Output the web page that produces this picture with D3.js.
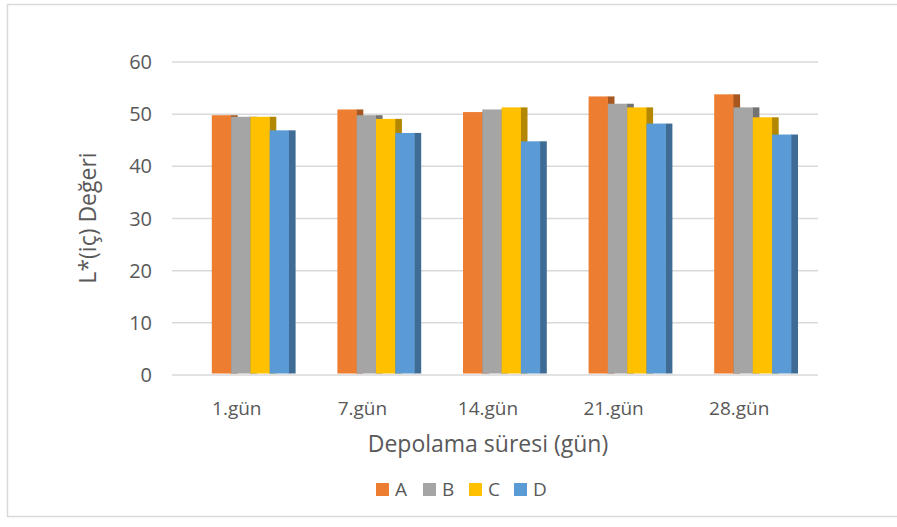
<!DOCTYPE html>
<html>
<head>
<meta charset="utf-8">
<script src="https://cdn.jsdelivr.net/npm/d3@7"></script>
<style>
  body { margin: 0; background: #fff; }
  text { font-family: "Open Sans", "Noto Sans", sans-serif; fill: #595959; }
</style>
</head>
<body>
<svg id="chart" width="897" height="527"></svg>
<script>
// storage days on the x axis
var days = ["1.gün", "7.gün", "14.gün", "21.gün", "28.gün"];
var seriesNames = ["A", "B", "C", "D"];
// L* (inner) values
var valuesA = [49.8, 50.9, 50.4, 53.4, 53.8];
var valuesB = [49.5, 49.8, 50.9, 52.0, 51.3];
var valuesC = [49.5, 49.1, 51.3, 51.3, 49.4];
var valuesD = [46.9, 46.4, 44.8, 48.2, 46.1];
var yTicks = [0, 10, 20, 30, 40, 50, 60];

var frontColors = ["#ED7D31", "#A5A5A5", "#FFC000", "#5B9BD5"];
var sideColors  = ["#A6561F", "#737373", "#B38700", "#3F6C95"];

var allValues = [valuesA, valuesB, valuesC, valuesD];

var svg = d3.select("#chart");

// outer frame
svg.append("rect")
    .attr("x", 7.5).attr("y", 4.5)
    .attr("width", 900).attr("height", 512)
    .attr("fill", "none")
    .attr("stroke", "#d9d9d9")
    .attr("stroke-width", 1.5);

var y = d3.scaleLinear().domain([0, 60]).range([375, 62]);
var x = d3.scaleBand().domain(days).range([174, 802]);

var barW = 19.3, depth = 6.6;

// gridlines (back wall, a bit wider than the category band)
svg.append("g")
    .selectAll("line")
    .data(yTicks)
    .join("line")
    .attr("x1", 172).attr("x2", 818)
    .attr("y1", function (d) { return y(d); })
    .attr("y2", function (d) { return y(d); })
    .attr("stroke", "#d9d9d9")
    .attr("stroke-width", 1.5);

// y tick labels
svg.append("g")
    .selectAll("text")
    .data(yTicks)
    .join("text")
    .attr("x", 152)
    .attr("y", function (d) { return y(d); })
    .attr("dy", "0.35em")
    .attr("text-anchor", "end")
    .attr("font-size", 20)
    .text(function (d) { return d; });

// bars: each series drawn in order so the next front covers the previous side
var bars = svg.append("g");
allValues.forEach(function (vals, s) {
    var g = bars.append("g");
    vals.forEach(function (v, i) {
        var x0 = x(days[i]) + x.bandwidth() / 2 - 25 + s * barW;
        g.append("rect")
            .attr("x", x0 + barW - 0.5)
            .attr("y", y(v))
            .attr("width", depth + 0.5)
            .attr("height", y(0) - 1.5 - y(v))
            .attr("fill", sideColors[s]);
        g.append("rect")
            .attr("x", x0)
            .attr("y", y(v))
            .attr("width", barW)
            .attr("height", y(0) - 1.5 - y(v))
            .attr("fill", frontColors[s]);
    });
});

// x tick labels
svg.append("g")
    .selectAll("text")
    .data(days)
    .join("text")
    .attr("x", function (d) { return x(d) + x.bandwidth() / 2; })
    .attr("y", 408)
    .attr("dy", "0.35em")
    .attr("text-anchor", "middle")
    .attr("font-size", 19)
    .text(function (d) { return d; });

// axis titles
svg.append("text")
    .attr("x", 488).attr("y", 444)
    .attr("dy", "0.35em")
    .attr("text-anchor", "middle")
    .attr("font-size", 23)
    .text("Depolama süresi (gün)");

svg.append("text")
    .attr("transform", "translate(88,218) rotate(-90)")
    .attr("dy", "0.35em")
    .attr("text-anchor", "middle")
    .attr("font-size", 23)
    .text("L*(iç) Değeri");

// legend
var legendX = [376, 423, 469, 514];
var legend = svg.append("g")
    .selectAll("g")
    .data(seriesNames)
    .join("g")
    .attr("transform", function (d, i) { return "translate(" + legendX[i] + ",483)"; });
legend.append("rect")
    .attr("width", 13).attr("height", 13)
    .attr("fill", function (d, i) { return frontColors[i]; });
legend.append("text")
    .attr("x", 19).attr("y", 6.5)
    .attr("dy", "0.35em")
    .attr("font-size", 19)
    .text(function (d) { return d; });
</script>
</body>
</html>
